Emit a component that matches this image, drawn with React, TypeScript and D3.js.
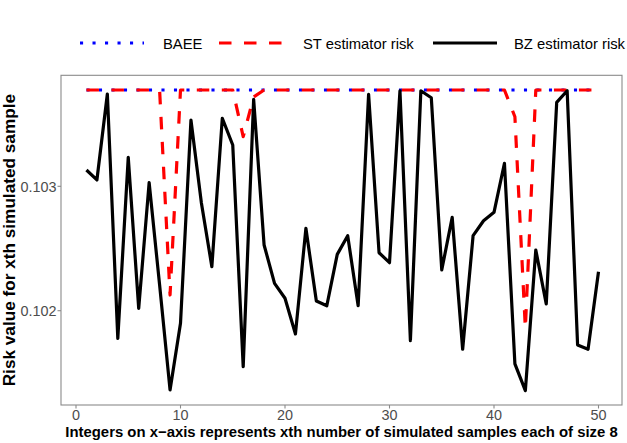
import * as d3 from 'd3';
import * as React from 'react';
import { useEffect } from 'react';

const samples: number[] = d3.range(1, 51);

const bzRisk: number[] = [
  0.103131, 0.103051, 0.103742, 0.101778, 0.103233, 0.102019, 0.103029, 0.102207, 0.101363, 0.101899,
  0.103533, 0.102866, 0.102354, 0.103547, 0.103332, 0.10155, 0.103699, 0.102528, 0.10222, 0.1021,
  0.101813, 0.102662, 0.102078, 0.10204, 0.102453, 0.102603, 0.10204, 0.10374, 0.102466, 0.102386,
  0.103768, 0.101759, 0.103768, 0.103712, 0.102327, 0.102751, 0.10169, 0.102603, 0.102723, 0.102791,
  0.103185, 0.101572, 0.101357, 0.102488, 0.102054, 0.103675, 0.103768, 0.101724, 0.10169, 0.102313,
];

const stRisk: number[] = [
  0.103774, 0.103774, 0.103774, 0.103774, 0.103774, 0.103774, 0.103774, 0.103774, 0.102126, 0.103774,
  0.103774, 0.103774, 0.103774, 0.103774, 0.103774, 0.103399, 0.103718, 0.103774, 0.103774, 0.103774,
  0.103774, 0.103774, 0.103774, 0.103774, 0.103774, 0.103774, 0.103774, 0.103774, 0.103774, 0.103774,
  0.103774, 0.103774, 0.103774, 0.103774, 0.103774, 0.103774, 0.103774, 0.103774, 0.103774, 0.103774,
  0.103774, 0.103559, 0.101858, 0.103774, 0.103774, 0.103774, 0.103774, 0.103774, 0.103774, 0.103774,
];

const baeeRisk: number[] = samples.map(() => 0.103774);

const xTicks = [0, 10, 20, 30, 40, 50];
const yTicks = [0.102, 0.103];

const legendLabels = ['BAEE', 'ST estimator risk', 'BZ estimator risk'];
const seriesColors = ['#0000FF', '#FF0000', '#000000'];
const seriesDash = ['3.1,9.4', '12.5,12.5', null];

const FONT = "'Liberation Sans', Arial, Helvetica, sans-serif";

export default function App() {
  const ref = React.useRef(null);
  const width = 627;
  const height = 443;
  const panel = { left: 61, right: 622, top: 75.3, bottom: 405 };

  useEffect(() => {
    if (!ref.current) return;
    const svg = d3.select(ref.current);
    svg.selectAll('*').remove();

    const x = d3.scaleLinear().domain([0, 50]).range([76, 598.5]);
    const y = d3.scaleLinear().domain([0.102, 0.103]).range([310.7, 186.3]);

    svg.append('rect').attr('width', width).attr('height', height).attr('fill', '#fff');

    // panel border
    svg
      .append('rect')
      .attr('x', panel.left)
      .attr('y', panel.top)
      .attr('width', panel.right - panel.left)
      .attr('height', panel.bottom - panel.top)
      .attr('fill', 'none')
      .attr('stroke', '#8a8a8a')
      .attr('stroke-width', 1.1);

    const series = [baeeRisk, stRisk, bzRisk];
    const line = d3
      .line<number>()
      .x((_, i) => x(samples[i]))
      .y((d) => y(d));

    const g = svg.append('g');
    series.forEach((s, i) => {
      const p = g
        .append('path')
        .datum(s)
        .attr('fill', 'none')
        .attr('stroke', seriesColors[i])
        .attr('stroke-width', 3.2)
        .attr('stroke-linejoin', 'round')
        .attr('stroke-linecap', 'butt')
        .attr('d', line);
      if (seriesDash[i]) p.attr('stroke-dasharray', seriesDash[i]);
    });

    // x axis
    const xa = svg.append('g');
    xTicks.forEach((t) => {
      xa.append('line')
        .attr('x1', x(t))
        .attr('x2', x(t))
        .attr('y1', panel.bottom)
        .attr('y2', panel.bottom + 3.5)
        .attr('stroke', '#8a8a8a')
        .attr('stroke-width', 1.1);
      xa.append('text')
        .attr('x', x(t))
        .attr('y', 420)
        .attr('text-anchor', 'middle')
        .attr('font-family', FONT)
        .attr('font-size', 14.4)
        .attr('fill', '#4D4D4D')
        .text(String(t));
    });

    // y axis
    const ya = svg.append('g');
    yTicks.forEach((t) => {
      ya.append('line')
        .attr('x1', panel.left - 3.5)
        .attr('x2', panel.left)
        .attr('y1', y(t))
        .attr('y2', y(t))
        .attr('stroke', '#8a8a8a')
        .attr('stroke-width', 1.1);
      ya.append('text')
        .attr('x', 56.5)
        .attr('y', y(t) + 5.2)
        .attr('text-anchor', 'end')
        .attr('font-family', FONT)
        .attr('font-size', 14.4)
        .attr('fill', '#4D4D4D')
        .text(d3.format('.3f')(t));
    });

    // axis titles
    svg
      .append('text')
      .attr('x', (panel.left + panel.right) / 2)
      .attr('y', 436.5)
      .attr('text-anchor', 'middle')
      .attr('font-family', FONT)
      .attr('font-weight', 'bold')
      .attr('font-size', 14.9)
      .attr('fill', '#000')
      .text('Integers on x\u2212axis represents xth number of simulated samples each of size 8');

    svg
      .append('text')
      .attr('transform', `translate(15,${(panel.top + panel.bottom) / 2}) rotate(-90)`)
      .attr('text-anchor', 'middle')
      .attr('font-family', FONT)
      .attr('font-weight', 'bold')
      .attr('font-size', 17.2)
      .attr('fill', '#000')
      .text('Risk value for xth simulated sample');

    // legend
    const keyX = [80, 219, 433];
    const textX = [163, 303, 514];
    const legend = svg.append('g');
    legendLabels.forEach((lab, i) => {
      const k = legend
        .append('line')
        .attr('x1', keyX[i])
        .attr('x2', keyX[i] + 64)
        .attr('y1', 43)
        .attr('y2', 43)
        .attr('stroke', seriesColors[i])
        .attr('stroke-width', 3.2);
      if (seriesDash[i]) k.attr('stroke-dasharray', seriesDash[i]);
      legend
        .append('text')
        .attr('x', textX[i])
        .attr('y', 48.5)
        .attr('font-family', FONT)
        .attr('font-size', 14.8)
        .attr('fill', '#000')
        .text(lab);
    });
  }, []);

  return (
    <svg
      ref={ref}
      width={width}
      height={height}
      style={{ position: 'absolute', left: 0, top: 0, display: 'block' }}
    />
  );
}
